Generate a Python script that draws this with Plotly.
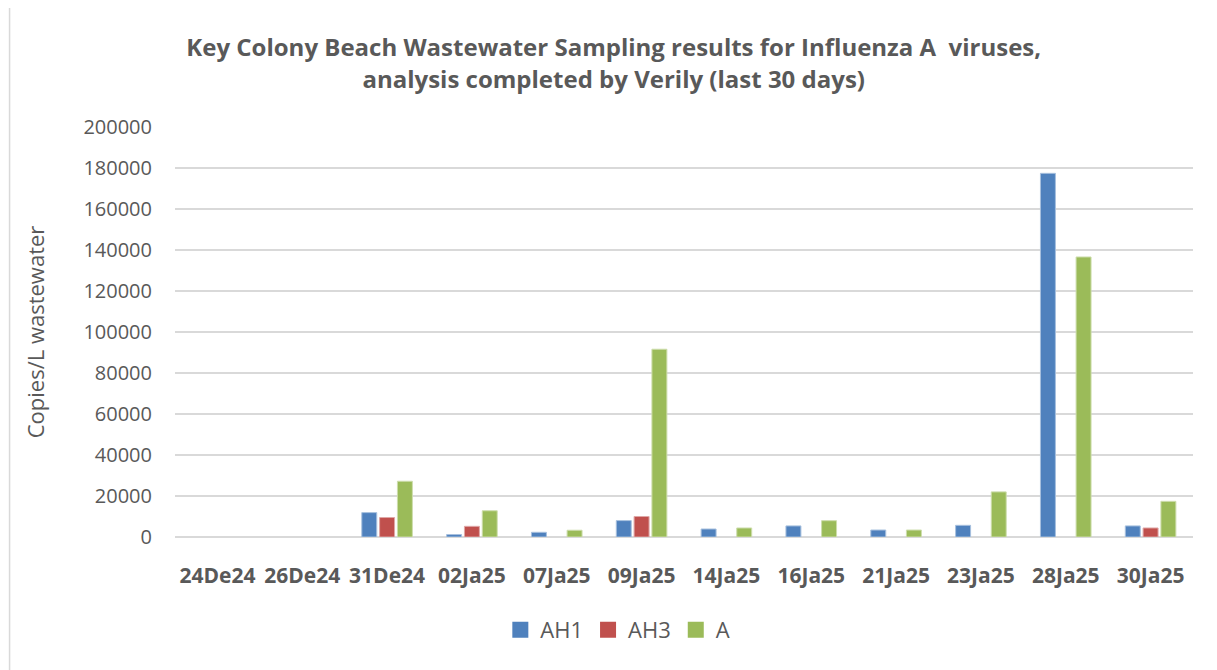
import plotly.graph_objects as go

categories = ["24De24", "26De24", "31De24", "02Ja25", "07Ja25", "09Ja25",
              "14Ja25", "16Ja25", "21Ja25", "23Ja25", "28Ja25", "30Ja25"]
ah1 = [None, None, 11900, 1200, 2300, 8000, 3900, 5400, 3400, 5700, 177400, 5400]
ah3 = [None, None, 9500, 5200, None, 10000, None, None, None, None, None, 4400]
a_vals = [None, None, 27200, 12800, 3300, 91600, 4400, 7950, 3400, 22000, 136600, 17400]

y_ticks = [0, 20000, 40000, 60000, 80000, 100000, 120000, 140000, 160000, 180000, 200000]

FONT = "Open Sans"
GREY = "#595959"

series = [("AH1", ah1, "#4F81BD", "#A7C0DE"),
          ("AH3", ah3, "#C0504D", "#DFA7A6"),
          ("A", a_vals, "#9BBB59", "#CDDDAC")]

fig = go.Figure()
for name, vals, col, edge in series:
    fig.add_trace(go.Bar(x=categories, y=vals, name=name, showlegend=False,
                         marker=dict(color=col, line=dict(color=edge, width=1))))
for name, vals, col, edge in series:
    fig.add_trace(go.Scatter(x=[None], y=[None], name=name, mode="markers",
                             marker=dict(symbol="square", size=16, color=col)))

fig.update_layout(
    width=1209, height=662,
    paper_bgcolor="white", plot_bgcolor="white",
    margin=dict(l=167, r=24, t=119, b=133, autoexpand=False),
    barmode="group", bargap=0.37, bargroupgap=0.16,
    title=dict(text="<b>Key Colony Beach Wastewater Sampling results for Influenza A  viruses,<br>analysis completed by Verily (last 30 days)</b>",
               x=0.501, xanchor="center", y=0.927, yanchor="middle",
               font=dict(family=FONT, size=24, color=GREY)),
    font=dict(family=FONT, color=GREY),
    legend=dict(orientation="h", x=0.435, xanchor="center", y=-0.227, yanchor="middle",
                font=dict(family=FONT, size=22, color=GREY), traceorder="normal",
                itemwidth=30),
    showlegend=True,
)
fig.update_xaxes(type="category", showgrid=False, showline=False, ticks="",
                 tickvals=categories, ticktext=["<b>" + c + "</b>" for c in categories],
                 tickfont=dict(family=FONT, size=21, color=GREY),
                 ticklabelstandoff=24, tickangle=0, automargin=False)
fig.update_yaxes(range=[0, 200000], tickvals=y_ticks, ticktext=[str(v) for v in y_ticks],
                 showgrid=True, gridcolor="#D9D9D9", gridwidth=1.5,
                 zeroline=True, zerolinecolor="#D9D9D9", zerolinewidth=1.5,
                 showline=False, ticks="", automargin=False,
                 tickfont=dict(family=FONT, size=20, color=GREY),
                 ticklabelstandoff=22,
                 title=dict(text="Copies/L wastewater", font=dict(family=FONT, size=22, color=GREY),
                            standoff=32))
fig.add_shape(type="rect", xref="paper", yref="paper",
              x0=-0.1625, x1=1.05, y0=-0.4, y1=1.5,
              line=dict(color="#D9D9D9", width=1.5), fillcolor="rgba(0,0,0,0)", layer="below")
fig.write_html("out.html")
